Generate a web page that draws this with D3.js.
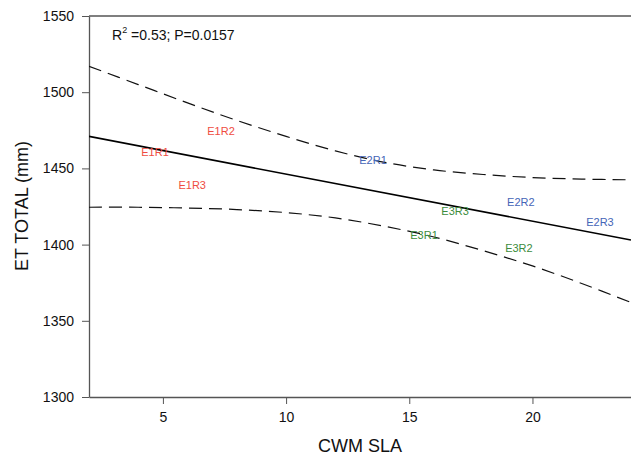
<!DOCTYPE html>
<html>
<head>
<meta charset="utf-8">
<script src="https://cdn.jsdelivr.net/npm/d3@7"></script>
<style>
  body { margin: 0; background: #fff; }
  svg { display: block; }
</style>
</head>
<body>
<div id="chart"></div>
<script>
// plot labels
var labels = ['E1R1', 'E1R2', 'E1R3', 'E2R1', 'E2R2', 'E2R3', 'E3R1', 'E3R2', 'E3R3'];
var slaValues = [4.68, 7.36, 6.19, 13.53, 19.53, 22.74, 15.6, 19.45, 16.86];
var etValues = [1461, 1474.7, 1438.9, 1455.5, 1428, 1415, 1406, 1398, 1422.2];

// regression line end points
var fitX = [2, 24];
var fitY = [1471, 1403];

// 95% confidence band
var ciX = [2, 4, 6, 8, 10, 12, 14, 16, 18, 20, 22, 24];
var ciUpper = [1517, 1505, 1493, 1481.5, 1471, 1461.5, 1454, 1449, 1446, 1444, 1443, 1442.5];
var ciLower = [1424.5, 1424.5, 1424, 1423, 1421, 1417.5, 1412, 1405, 1396, 1386, 1374.5, 1362];

var xTicks = [5, 10, 15, 20];
var yTicks = [1300, 1350, 1400, 1450, 1500, 1550];

var groupColors = { E1: '#ef4c41', E2: '#4565b7', E3: '#3c8c3c' };

var W = 631, H = 461
  , margin = {top: 16, right: 0, bottom: 64, left: 89}
  , width = W - margin.left - margin.right
  , height = H - margin.top - margin.bottom
  , font = 'Arial, "Liberation Sans", Helvetica, sans-serif';

var svg = d3.select('#chart').append('svg')
  .attr('width', W)
  .attr('height', H);

var g = svg.append('g')
  .attr('transform', 'translate(' + margin.left + ',' + margin.top + ')');

var x = d3.scaleLinear().domain([2, 24]).range([0, width]);
var y = d3.scaleLinear().domain([1300, 1550]).range([height, 0]);

// axes
var xAxis = d3.axisBottom(x).tickValues(xTicks).tickSizeInner(7).tickSizeOuter(0).tickPadding(8)
  .tickFormat(d3.format('d'));
var yAxis = d3.axisLeft(y).tickValues(yTicks).tickSizeInner(7).tickSizeOuter(0).tickPadding(8)
  .tickFormat(d3.format('d'));

var gx = g.append('g')
  .attr('class', 'x axis')
  .attr('transform', 'translate(0,' + height + ')')
  .call(xAxis);

var gy = g.append('g')
  .attr('class', 'y axis')
  .call(yAxis);

[gx, gy].forEach(function(ax) {
  ax.select('.domain').attr('stroke', '#555').attr('stroke-width', 1.3);
  ax.selectAll('.tick line').attr('stroke', '#555').attr('stroke-width', 1);
  ax.selectAll('.tick text')
    .style('font', '14px ' + font)
    .attr('fill', '#111');
});

// top frame line
g.append('line')
  .attr('x1', 0).attr('x2', width)
  .attr('y1', 0).attr('y2', 0)
  .attr('stroke', '#555')
  .attr('stroke-width', 1.3);

g.append('clipPath').attr('id', 'plot-clip')
  .append('rect').attr('width', width).attr('height', height);

var plot = g.append('g').attr('clip-path', 'url(#plot-clip)');

// confidence band
var band = d3.line()
  .x(function(d) { return x(d[0]); })
  .y(function(d) { return y(d[1]); })
  .curve(d3.curveCatmullRom);

[ciUpper, ciLower].forEach(function(vals) {
  plot.append('path')
    .datum(ciX.map(function(v, i) { return [v, vals[i]]; }))
    .attr('d', band)
    .attr('fill', 'none')
    .attr('stroke', '#111')
    .attr('stroke-width', 1.2)
    .attr('stroke-dasharray', '13,7');
});

// regression line
plot.append('path')
  .datum(fitX.map(function(v, i) { return [v, fitY[i]]; }))
  .attr('d', d3.line().x(function(d) { return x(d[0]); }).y(function(d) { return y(d[1]); }))
  .attr('fill', 'none')
  .attr('stroke', '#000')
  .attr('stroke-width', 1.6);

// point labels
g.selectAll('text.pt')
  .data(labels)
  .enter()
  .append('text')
  .attr('class', 'pt')
  .attr('x', function(d, i) { return x(slaValues[i]); })
  .attr('y', function(d, i) { return y(etValues[i]); })
  .attr('dy', '0.36em')
  .attr('text-anchor', 'middle')
  .attr('fill', function(d) { return groupColors[d.slice(0, 2)]; })
  .style('font', '11px ' + font)
  .text(function(d) { return d; });

// stats annotation
var stat = g.append('text')
  .attr('x', 23)
  .attr('y', 24)
  .attr('fill', '#111')
  .style('font', '14px ' + font);
stat.append('tspan').text('R');
stat.append('tspan').attr('dy', -7).style('font-size', '9px').text('2');
stat.append('tspan').attr('dy', 7).text(' =0.53; P=0.0157');

// axis titles
svg.append('text')
  .attr('x', margin.left + width / 2)
  .attr('y', 452)
  .attr('text-anchor', 'middle')
  .attr('fill', '#111')
  .style('font', '18px ' + font)
  .text('CWM SLA');

svg.append('text')
  .attr('transform', 'rotate(-90)')
  .attr('x', -206)
  .attr('y', 28)
  .attr('text-anchor', 'middle')
  .attr('fill', '#111')
  .style('font', '18px ' + font)
  .text('ET TOTAL (mm)');
</script>
</body>
</html>
